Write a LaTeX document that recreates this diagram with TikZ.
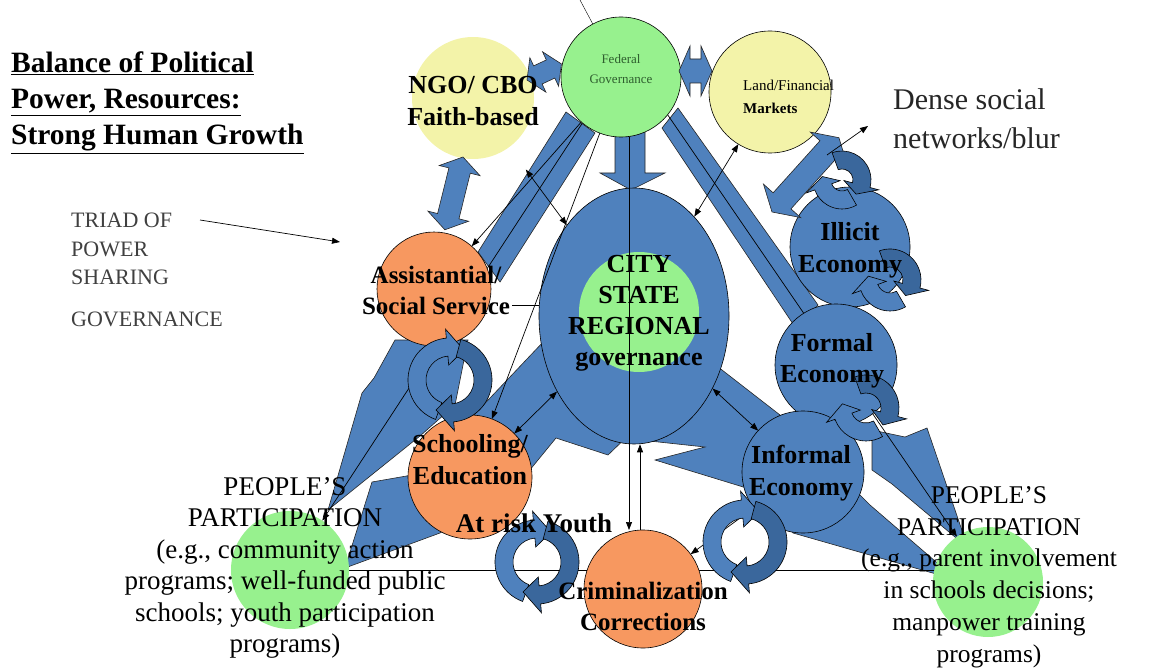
\documentclass[tikz,border=0pt]{standalone}
\usepackage{fontspec}
\setmainfont{Liberation Serif}
\usepackage{xcolor}
\definecolor{Steel}{HTML}{4F81BD}
\definecolor{Deep Steel}{HTML}{3A679C}
\definecolor{Apricot}{HTML}{F79860}
\definecolor{Mint}{HTML}{97F18E}
\definecolor{Butter}{HTML}{F3F3A9}
\definecolor{Fern}{HTML}{2E5E2E}
\colorlet{cBlue}{Steel}
\colorlet{cDeep}{Deep Steel}
\colorlet{cOrange}{Apricot}
\colorlet{cGreen}{Mint}
\colorlet{cYellow}{Butter}
\usepackage{tikz}
\usetikzlibrary{arrows.meta, positioning, shapes.geometric}
\pgfdeclarelayer{bg}
\pgfdeclarelayer{mid}
\pgfsetlayers{bg,mid,main}
\tikzset{
	line width = .7pt,
	>={Triangle[length=8pt, width=6pt]},
	disc/.style={
		circle,
		inner sep=0pt,
		outer sep=0pt
	},
	rim/.style={
		disc,
		draw=black,
		line width=.6pt
	},
	mass/.style={
		fill=cBlue,
		draw=black!85,
		line width=.6pt
	},
	slab/.style={
		fill=cBlue,
		draw=black!85,
		line width=.6pt
	},
	edge/.style={
		->,
		line width=.7pt
	},
	twoway/.style={
		<->,
		line width=.7pt
	},
	lab/.style={
		align=center,
		inner sep=0pt,
		font=\bfseries\fontsize{25}{31}\selectfont
	},
	plain/.style={
		align=center,
		inner sep=0pt,
		font=\fontsize{27}{31.5}\selectfont
	}
}
% curved block arrow round a centre
\newcommand{\turnarrow}[5]{%
	\pgfmathsetmacro{\arOut}{#2+9}%
	\pgfmathsetmacro{\arIn}{#2-9}%
	\pgfmathsetmacro{\arHo}{#2+18}%
	\pgfmathsetmacro{\arHi}{#2-18}%
	\pgfmathsetmacro{\arTip}{#4+30*sign(#4-#3)}%
	\filldraw[fill=#5, draw=black, line width=.6pt, shift={#1}]
		(#3:\arOut pt) arc[start angle=#3, end angle=#4, radius=\arOut pt]
		-- (#4:\arHo pt) -- (\arTip:#2pt) -- (#4:\arHi pt) -- (#4:\arIn pt)
		arc[start angle=#4, end angle=#3, radius=\arIn pt] -- cycle;}
% straight block arrow with two heads
\newcommand{\twinarrow}[6]{%
	\filldraw[slab, shift={#1}, rotate=#2]
		(0,0) -- (#6,#5) -- (#6,#4) -- (#3-#6,#4) -- (#3-#6,#5) -- (#3,0)
		-- (#3-#6,-#5) -- (#3-#6,-#4) -- (#6,-#4) -- (#6,-#5) -- cycle;}

\begin{document}
\begin{tikzpicture}[x=1pt, y=1pt]
\useasboundingbox (0,0) rectangle (1166,-671);

% ---
% Blue masses and bands
% ---
\begin{pgfonlayer}{bg}
\filldraw[mass] (395,-340) -- (374,-378) -- (362,-393) -- (328,-510) -- (420,-436) -- (455,-405) -- (468,-340) -- cycle;
\filldraw[mass] (345,-568) -- (372,-482) -- (418,-474) -- (545,-340) -- (634,-330) -- (634,-430) -- (608,-455) -- (556,-438) -- (520,-482) -- (440,-533) -- cycle;
\filldraw[mass] (634,-400) -- (713,-363) -- (780,-415) -- (870,-505) -- (957,-580) -- (793,-533) -- (753,-490) -- (655,-460) -- (705,-447) -- (640,-440) -- cycle;
\filldraw[mass] (872,-430) -- (905,-437) -- (927,-428) -- (968,-548) -- (892,-484) -- (872,-470) -- cycle;
\filldraw[mass] (566,-112) -- (595,-133) -- (500,-282) -- (478,-252) -- cycle;
\filldraw[mass] (662,-128) -- (678,-108) -- (818,-305) -- (797,-330) -- cycle;
\filldraw[slab] (615,-132) -- (645,-132) -- (645,-173) -- (665,-173) -- (631,-190) -- (600,-173) -- (615,-173) -- cycle;

\node[ellipse, draw=black, line width=.6pt, fill=cBlue, inner sep=0pt, minimum width=190pt, minimum height=256pt] (city) at (634,-316) {};
\node[disc, fill=cGreen, minimum size=120pt] (core) at (639,-312) {};
\end{pgfonlayer}

% ---
% Circles
% ---
\node[disc, fill=cYellow, minimum size=122pt] (ngo) at (473,-98) {};
\node[rim, fill=cGreen, minimum size=120pt] (fed) at (621,-77) {};
\node[rim, fill=cYellow, minimum size=122pt] (land) at (770,-92) {};
\node[rim, fill=cOrange, minimum size=114pt] (assist) at (434,-289) {};
\node[rim, fill=cOrange, minimum size=124pt] (school) at (470,-477) {};
\node[rim, fill=cOrange, minimum size=118pt] (crime) at (643,-589) {};
\node[rim, fill=cBlue, minimum size=120pt] (illicit) at (850,-247) {};
\node[rim, fill=cBlue, minimum size=122pt] (formal) at (836,-365) {};
\node[rim, fill=cBlue, minimum size=122pt] (informal) at (803,-472) {};
\node[disc, fill=cGreen, minimum size=118pt] (pplL) at (290,-570) {};
\node[disc, fill=cGreen, minimum size=110pt] (pplR) at (988,-582) {};

% ---
% Block arrows
% ---
\twinarrow{(772,-212)}{48}{100}{12}{25}{15}
\twinarrow{(463,-157)}{256}{75}{11}{21}{14}
\twinarrow{(527,-80)}{25}{38}{10}{19}{12}
\twinarrow{(679,-71)}{0}{33}{12}{25}{11}

% ---
% Connectors
% ---
\coordinate (topend) at (580,0);
\coordinate (triadA) at (200,-220);
\coordinate (triadB) at (340,-242);
\coordinate (denseA) at (827,-155);
\coordinate (denseB) at (868,-126);
\coordinate (svc) at (512,-305);
\begin{pgfonlayer}{mid}
\draw (fed) -- (topend);
\draw[edge] (fed.230) -- (pplL);
\draw[edge] (fed.-39) -- (pplR);
\draw (pplL) -- (pplL -| pplR);
\draw[edge] (fed) -- (assist);
\draw[edge] (fed) -- (school);
\draw[edge] ([xshift=8pt]fed.south) -- ([xshift=-14pt]crime.north);
\draw[edge] ([xshift=-3pt]crime.north) -- ([xshift=6pt]city.south);
\draw[twoway, shorten <=28pt] (ngo) -- (city);
\draw[twoway] (land) -- (city);
\draw[twoway] (school) -- (city);
\draw[twoway] (city) -- (informal);
\draw[edge] (informal) -- (crime);
\draw (svc) -- (svc -| city.west);
\end{pgfonlayer}
\draw[edge] (triadA) -- (triadB);
\draw[edge] (denseA) -- (denseB);

% ---
% Cycles
% ---
\foreach \cx/\cy/\cr in {450/-380/33, 537/-562/33, 745/-542/33} {
	\turnarrow{(\cx,\cy)}{\cr}{250}{95}{cBlue}
	\turnarrow{(\cx,\cy)}{\cr}{75}{-85}{cDeep}
}
\foreach \cx/\cy/\cr in {866/-408/24, 890/-280/22, 842/-180/20} {
	\turnarrow{(\cx,\cy)}{\cr}{300}{200}{cBlue}
	\turnarrow{(\cx,\cy)}{\cr}{110}{-15}{cDeep}
}

% ---
% Texts
% ---
\node[anchor=north west, align=left, inner sep=0pt, font=\bfseries\fontsize{29.5}{36}\selectfont] (title) at (11,-52) {\underline{Balance of Political}\\\underline{Power, Resources:}\\\underline{Strong Human Growth}};
\node[anchor=north west, align=left, inner sep=0pt, text=black!75, font=\fontsize{22}{28.5}\selectfont] (triad) at (71,-213) {TRIAD OF\\POWER\\SHARING\\[13.5pt]GOVERNANCE};
\node[anchor=north west, align=left, inner sep=0pt, text=black!85, font=\fontsize{30}{39}\selectfont] (dense) at (893,-88) {Dense social\\networks/blur};

\node[lab, font=\bfseries\fontsize{26}{32}\selectfont] (ngoT) at ([yshift=-3pt]ngo.center) {NGO/ CBO\\Faith-based};
\node[align=center, inner sep=0pt, text=Fern, font=\fontsize{13}{20}\selectfont] (fedT) at ([yshift=7.5pt]fed.center) {Federal\\Governance};
\node[anchor=north west, align=left, inner sep=0pt, font=\fontsize{15}{23}\selectfont] (landT) at (743,-80) {Land/Financial\\\textbf{Markets}};
\node[lab, font=\bfseries\fontsize{26}{31}\selectfont] (cityT) at ([xshift=5pt, yshift=3pt]city.center) {CITY\\STATE\\REGIONAL\\governance};
\node[lab] (assistT) at ([xshift=2pt, yshift=-1pt]assist.center) {Assistantial/\\Social Service};
\node[lab, font=\bfseries\fontsize{26}{32}\selectfont] (schoolT) at ([yshift=17pt]school.center) {Schooling/\\Education};
\node[lab, anchor=base, font=\bfseries\fontsize{27}{32}\selectfont] (youth) at ([xshift=64pt, yshift=-55pt]school.center) {At risk Youth};
\node[lab] (crimeT) at ([yshift=-17pt]crime.center) {Criminalization\\Corrections};
\node[lab, font=\bfseries\fontsize{26}{32}\selectfont] (illicitT) at ([yshift=-3pt]illicit.center) {Illicit\\Economy};
\node[lab, font=\bfseries\fontsize{26}{31}\selectfont] (formalT) at ([xshift=-4pt, yshift=4pt]formal.center) {Formal\\Economy};
\node[lab, font=\bfseries\fontsize{26}{32}\selectfont] (informalT) at ([xshift=-2pt, yshift=-1pt]informal.center) {Informal\\Economy};
\node[plain] (pplLT) at ([xshift=-5pt, yshift=2pt]pplL.center) {PEOPLE’S\\PARTICIPATION\\(e.g., community action\\programs; well-funded public\\schools; youth participation\\programs)};
\node[plain, font=\fontsize{25.5}{31.8}\selectfont] (pplRT) at ([xshift=1pt, yshift=5pt]pplR.center) {PEOPLE’S\\PARTICIPATION\\(e.g., parent involvement\\in schools decisions;\\manpower training\\programs)};
\end{tikzpicture}
\end{document}
